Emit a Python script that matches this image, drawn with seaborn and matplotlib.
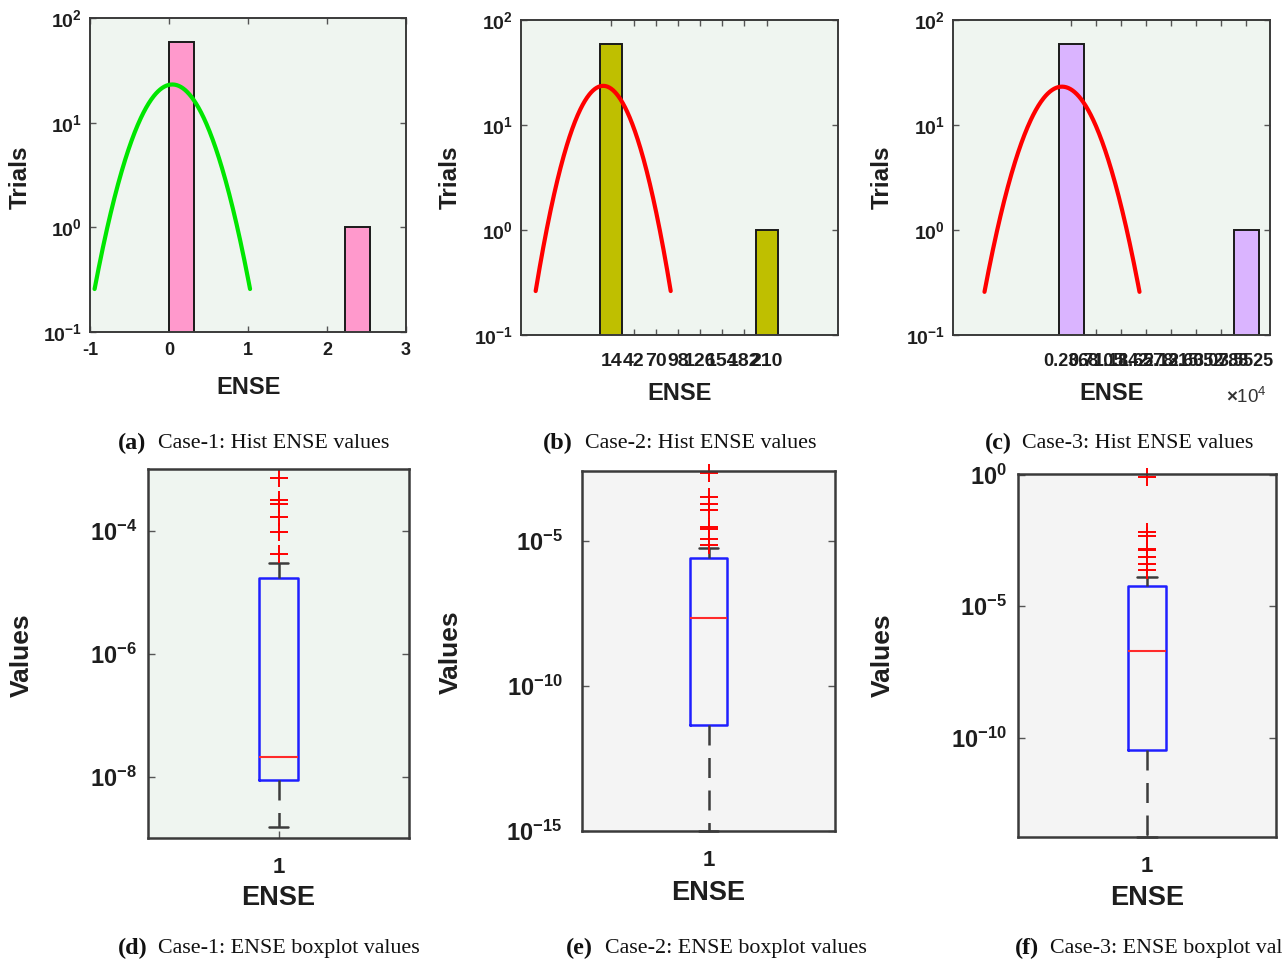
import numpy as np
import pandas as pd
import matplotlib
matplotlib.use("Agg")
import matplotlib.pyplot as plt
import seaborn as sns
from matplotlib.ticker import FixedLocator, FuncFormatter, NullLocator

W, H = 1282, 960

# ---------------- histogram data (8 bins each) ----------------
case1_counts = [59, 0, 0, 0, 0, 0, 0, 1]
case1_range = (0.0, 2.54)
case1_fit = (0.042, 0.328)          # normal fit: mean, std

case2_counts = [59, 0, 0, 0, 0, 0, 0, 1]
case2_range = (0.0, 224.0)
case2_fit = (3.7, 28.4)
case2_ticklabels = ["14", "42", "70", "98", "126", "154", "182", "210"]

case3_counts = [59, 0, 0, 0, 0, 0, 0, 1]
case3_range = (0.0, 3.789)          # in units of 1e4
case3_fit = (0.063, 0.489)
case3_ticklabels = ["0.2368", "0.7105", "1.1842", "1.6578",
                    "2.1315", "2.6052", "3.0788", "3.5525"]

# ---------------- boxplot summaries ----------------
case1_box = dict(whislo=1.5e-9, q1=8.7e-9, med=2.1e-8, q3=1.66e-5, whishi=3.0e-5)
case1_outliers = [7.1e-4, 3.1e-4, 2.7e-4, 1.66e-4, 9.4e-5, 4.1e-5]

case2_box = dict(whislo=1.0e-15, q1=4.5e-12, med=2.1e-8, q3=2.6e-6, whishi=5.8e-6)
case2_outliers = [2.1e-3, 3.2e-4, 1.9e-4, 1.1e-4, 2.9e-5, 2.6e-5, 1.15e-5, 7.0e-6]

case3_box = dict(whislo=1.7e-14, q1=3.5e-11, med=1.9e-7, q3=5.8e-5, whishi=1.3e-4)
case3_outliers = [0.85, 6.8e-3, 4.6e-3, 1.55e-3, 1.35e-3, 7.4e-4, 4.2e-4, 2.3e-4]

sns.set_theme(style="ticks")
plt.rcParams.update({
    "font.family": ["Liberation Sans", "DejaVu Sans"],
    "font.weight": "bold",
    "mathtext.fontset": "custom",
    "mathtext.rm": "Liberation Sans",
    "mathtext.bf": "Liberation Sans:bold",
    "axes.edgecolor": "#3a3a3a",
    "axes.linewidth": 1.4,
})

fig = plt.figure(figsize=(W / 100, H / 100), dpi=100)
fig.patch.set_facecolor("white")


def make_axes(l, t, r, b):
    return fig.add_axes([l / W, 1 - b / H, (r - l) / W, (b - t) / H])


def ftext(x, y, s, **kw):
    return fig.text(x / W, 1 - y / H, s, **kw)


def log_fmt(v, pos):
    e = int(round(np.log10(v)))
    return r"$\mathbf{10^{%d}}$" % e


MINT = "#eff5f0"
GREY = "#f4f4f4"
TXT = "#1e1e1e"


def hist_panel(rect, counts, rng, fit, bar_color, curve_color, xlim,
               ticklabels=None, tickpad=7, xlabelsize=13.5):
    ax = make_axes(*rect)
    ax.set_facecolor(MINT)
    n_bins = len(counts)
    edges = np.linspace(rng[0], rng[1], n_bins + 1)
    centers = 0.5 * (edges[:-1] + edges[1:])
    df = pd.DataFrame({"ENSE": centers, "count": counts})
    sns.histplot(data=df, x="ENSE", weights="count", bins=n_bins, binrange=rng,
                 ax=ax, color=bar_color, edgecolor="#1a1a1a", linewidth=1.4,
                 alpha=1.0, stat="count")
    for p in list(ax.patches):
        if p.get_height() <= 0:
            p.remove()
    # fitted normal density scaled to counts
    mu, sd = fit
    width = edges[1] - edges[0]
    total = sum(counts)
    xs = np.linspace(mu - 3 * sd, mu + 3 * sd, 300)
    ys = total * width * np.exp(-0.5 * ((xs - mu) / sd) ** 2) / (sd * np.sqrt(2 * np.pi))
    sns.lineplot(x=xs, y=ys, ax=ax, color=curve_color, linewidth=3.0)
    ax.set_yscale("log")
    ax.set_ylim(0.1, 100)
    ax.set_xlim(*xlim)
    ax.yaxis.set_major_locator(FixedLocator([0.1, 1, 10, 100]))
    ax.yaxis.set_major_formatter(FuncFormatter(log_fmt))
    ax.yaxis.set_minor_locator(NullLocator())
    if ticklabels is None:
        ticks = np.arange(xlim[0], xlim[1] + 0.5, 1)
        ticklabels = ["%d" % t for t in ticks]
    else:
        ticks = centers
    ax.set_xticks(ticks)
    ax.set_xticklabels(ticklabels)
    ax.tick_params(axis="both", direction="in", length=4, width=1.0,
                   color="#555555", top=True, right=True, labelcolor=TXT)
    ax.tick_params(axis="y", pad=6, labelsize=14)
    ax.tick_params(axis="x", pad=tickpad, labelsize=xlabelsize)
    for lab in ax.get_xticklabels() + ax.get_yticklabels():
        lab.set_fontweight("bold")
    ax.set(xlabel="", ylabel="")
    for s in ax.spines.values():
        s.set_visible(True)
    return ax


hist_panel((90, 18, 406, 332), case1_counts, case1_range, case1_fit,
           "#ff99cc", "#00e600", (-1, 3), tickpad=7, xlabelsize=13)
hist_panel((521, 20, 838, 335), case2_counts, case2_range, case2_fit,
           "#bfbf00", "#ff0000", (-100, 300),
           ticklabels=case2_ticklabels, tickpad=13, xlabelsize=14)
hist_panel((953, 20, 1270, 335), case3_counts, case3_range, case3_fit,
           "#dab4ff", "#ff0000", (-2, 4),
           ticklabels=case3_ticklabels, tickpad=13, xlabelsize=13)

# axis titles for histogram panels
for x in (20, 450, 882):
    ftext(x, 177, "Trials", rotation=90, ha="center", va="center",
          fontsize=17.5, fontweight="bold", color=TXT)
for x, y in ((249, 388), (680, 393), (1112, 393)):
    ftext(x, y, "ENSE", ha="center", va="center", fontsize=17,
          fontweight="bold", color=TXT)
ftext(1246, 397, r"$\times\mathregular{10^{4}}$", ha="center", va="center",
      fontsize=13.5, fontweight="normal", color="#333333")


def box_panel(rect, stats, outliers, yl, yticks, bg, tickpad=8):
    ax = make_axes(*rect)
    ax.set_facecolor(bg)
    st = dict(stats)
    st["fliers"] = outliers
    ax.bxp([st], positions=[1], widths=0.15, capwidths=0.075,
           boxprops=dict(color="#1f1fff", linewidth=1.8),
           medianprops=dict(color="#ff2a2a", linewidth=1.5),
           whiskerprops=dict(color="#3c3c3c", linewidth=1.8, linestyle=(0, (8, 5))),
           capprops=dict(color="#3c3c3c", linewidth=1.8),
           flierprops=dict(marker="+", markeredgecolor="#ff0000",
                           markersize=13, markeredgewidth=1.4, linestyle="none"))
    ax.set_yscale("log")
    ax.set_ylim(*yl)
    ax.set_xlim(0.5, 1.5)
    for ln in ax.lines:
        ln.set_clip_on(False)
    ax.yaxis.set_major_locator(FixedLocator(yticks))
    ax.yaxis.set_major_formatter(FuncFormatter(log_fmt))
    ax.yaxis.set_minor_locator(NullLocator())
    ax.set_xticks([1])
    ax.set_xticklabels(["1"])
    ax.tick_params(axis="both", direction="in", length=5, width=1.0,
                   color="#555555", right=True, labelcolor=TXT)
    ax.tick_params(axis="y", pad=tickpad, labelsize=17)
    ax.tick_params(axis="x", pad=14, labelsize=16)
    for lab in ax.get_xticklabels() + ax.get_yticklabels():
        lab.set_fontweight("bold")
    for s in ax.spines.values():
        s.set_visible(True)
        s.set_linewidth(1.8)
    return ax


box_panel((148, 469, 409, 838), case1_box, case1_outliers, (1e-9, 1e-3),
          [1e-8, 1e-6, 1e-4], MINT, tickpad=8)
box_panel((582, 471, 835, 831), case2_box, case2_outliers, (1e-15, 10 ** -2.6),
          [1e-15, 1e-10, 1e-5], GREY, tickpad=14)
box_panel((1018, 474, 1276, 837), case3_box, case3_outliers, (10 ** -13.78, 10 ** 0.03),
          [1e-10, 1e-5, 1e0], GREY, tickpad=8)

for x, y in ((22, 655), (451, 652), (883, 655)):
    ftext(x, y, "Values", rotation=90, ha="center", va="center",
          fontsize=19, fontweight="bold", color=TXT)
for x, y in ((278, 898), (708, 893), (1147, 898)):
    ftext(x, y, "ENSE", ha="center", va="center", fontsize=19.5,
          fontweight="bold", color=TXT)

# sub-figure captions
captions = [
    (118, 158, 443, "(a)", "Case-1: Hist ENSE values"),
    (543, 585, 443, "(b)", "Case-2: Hist ENSE values"),
    (985, 1022, 443, "(c)", "Case-3: Hist ENSE values"),
    (118, 158, 948, "(d)", "Case-1: ENSE boxplot values"),
    (566, 605, 948, "(e)", "Case-2: ENSE boxplot values"),
    (1015, 1050, 948, "(f)", "Case-3: ENSE boxplot values"),
]
for xl, xt, y, tag, txt in captions:
    ftext(xl, y, tag, ha="left", va="center", fontsize=17.5, fontweight="bold",
          family="Liberation Serif", color="#111111")
    ftext(xt, y, txt, ha="left", va="center", fontsize=15.8, fontweight="normal",
          family="Liberation Serif", color="#111111")

fig.savefig("out.png", dpi=100, facecolor="white")
